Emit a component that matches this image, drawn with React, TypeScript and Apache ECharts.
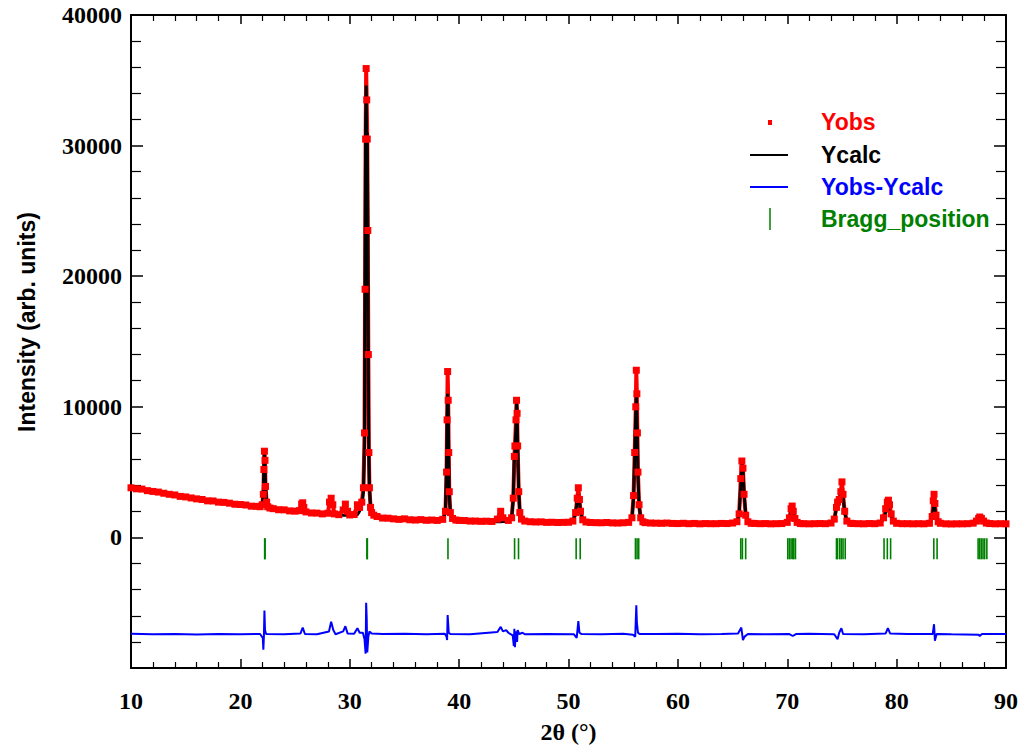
import React, { useEffect, useRef } from "react";
import * as echarts from "echarts";

// 2θ grid shared by observed and calculated profiles
const twoTheta = [
  10.0, 10.5, 11.0, 11.5, 12.0, 12.5, 13.0, 13.5, 14.0, 14.5, 15.0, 15.5, 16.0, 16.5, 17.0, 17.5, 18.0, 18.5, 19.0, 19.5,
  20.0, 20.5, 21.0, 21.5, 21.8, 22.0, 22.1, 22.15, 22.2, 22.25, 22.3, 22.4, 22.5, 22.7, 23.0, 23.5, 24.0, 24.5, 25.0, 25.4,
  25.6, 25.7, 25.8, 26.0, 26.5, 27.0, 27.5, 28.0, 28.15, 28.3, 28.45, 28.6, 29.0, 29.4, 29.6, 29.8, 30.0, 30.4, 30.7, 30.9,
  31.1, 31.25, 31.35, 31.4, 31.45, 31.5, 31.55, 31.6, 31.65, 31.7, 31.75, 31.8, 31.9, 32.0, 32.2, 32.5, 33.0, 33.5, 34.0, 34.5,
  35.0, 35.5, 36.0, 36.5, 37.0, 37.5, 38.0, 38.5, 38.75, 38.85, 38.9, 38.95, 39.0, 39.05, 39.1, 39.2, 39.4, 39.7, 40.0, 40.5,
  41.0, 41.5, 42.0, 42.5, 43.0, 43.5, 43.8, 44.0, 44.5, 44.8, 44.95, 45.05, 45.1, 45.2, 45.25, 45.3, 45.35, 45.45, 45.55, 45.7,
  46.0, 46.5, 47.0, 47.5, 48.0, 48.5, 49.0, 49.5, 50.0, 50.4, 50.65, 50.8, 50.9, 51.0, 51.1, 51.3, 51.6, 52.0, 52.5, 53.0,
  53.5, 54.0, 54.5, 55.0, 55.5, 55.8, 55.95, 56.05, 56.15, 56.2, 56.25, 56.3, 56.35, 56.45, 56.6, 56.8, 57.0, 57.5, 58.0, 58.5,
  59.0, 59.5, 60.0, 60.5, 61.0, 61.5, 62.0, 62.5, 63.0, 63.5, 64.0, 64.5, 65.0, 65.4, 65.6, 65.75, 65.85, 65.95, 66.05, 66.2,
  66.4, 66.7, 67.0, 67.5, 68.0, 68.5, 69.0, 69.5, 70.0, 70.2, 70.35, 70.45, 70.55, 70.7, 70.9, 71.2, 71.5, 72.0, 72.5, 73.0,
  73.5, 74.0, 74.3, 74.5, 74.6, 74.75, 74.9, 75.0, 75.1, 75.25, 75.45, 75.8, 76.0, 76.5, 77.0, 77.5, 78.0, 78.5, 78.8, 79.0,
  79.15, 79.25, 79.35, 79.5, 79.7, 80.0, 80.5, 81.0, 81.5, 82.0, 82.5, 83.0, 83.25, 83.35, 83.42, 83.5, 83.6, 83.8, 84.0, 84.5,
  85.0, 85.5, 86.0, 86.5, 87.0, 87.3, 87.5, 87.6, 87.75, 87.95, 88.2, 88.5, 89.0, 89.5, 90.0,
];

const yObs = [
  3800, 3720, 3700, 3580, 3520, 3470, 3380, 3300, 3250, 3140, 3100, 3020, 2950, 2900, 2800, 2790, 2700, 2680, 2620, 2540,
  2520, 2480, 2390, 2380, 2350, 2500, 3300, 5200, 6600, 5900, 3900, 2700, 2350, 2250, 2200, 2120, 2110, 2030, 2010, 2050,
  2550, 2650, 2300, 1950, 1870, 1860, 1800, 1850, 2700, 3000, 2500, 1800, 1740, 2100, 2550, 2000, 1720, 1750, 2500, 2300,
  2700, 3800, 8000, 19000, 30500, 35900, 33500, 30500, 23500, 14000, 6500, 3800, 2300, 1900, 1700, 1600, 1480, 1470, 1420, 1380,
  1420, 1350, 1330, 1360, 1310, 1330, 1300, 1380, 2000, 5000, 9000, 12700, 10500, 6500, 3500, 1900, 1450, 1330, 1300, 1290,
  1250, 1250, 1230, 1240, 1220, 1400, 2000, 1500, 1300, 1500, 3000, 6200, 7000, 9000, 10500, 9500, 7000, 3500, 1900, 1400,
  1250, 1200, 1180, 1190, 1150, 1160, 1140, 1150, 1160, 1250, 1900, 3000, 3800, 2900, 2000, 1350, 1180, 1140, 1130, 1120,
  1140, 1110, 1100, 1120, 1150, 1500, 3200, 6500, 10000, 12800, 11000, 8000, 5000, 2500, 1500, 1200, 1130, 1100, 1090, 1080,
  1100, 1070, 1060, 1080, 1050, 1070, 1040, 1060, 1050, 1050, 1070, 1060, 1100, 1200, 1800, 4500, 5850, 5300, 3300, 1700,
  1200, 1080, 1070, 1050, 1060, 1040, 1050, 1060, 1150, 1500, 2200, 2400, 2000, 1450, 1150, 1060, 1050, 1040, 1050, 1060,
  1050, 1100, 1400, 2300, 2700, 2900, 3500, 4250, 3300, 2000, 1250, 1080, 1060, 1050, 1040, 1060, 1050, 1100, 1500, 2200,
  2700, 2850, 2500, 1800, 1250, 1080, 1050, 1050, 1040, 1050, 1040, 1080, 1600, 2800, 3300, 2600, 1700, 1200, 1080, 1040,
  1030, 1040, 1040, 1050, 1090, 1250, 1450, 1560, 1450, 1250, 1100, 1060, 1040, 1050, 1040,
];

const yCalc = [
  3760, 3690, 3620, 3550, 3480, 3410, 3340, 3270, 3200, 3130, 3060, 3000, 2940, 2880, 2820, 2760, 2700, 2650, 2600, 2550,
  2500, 2450, 2400, 2350, 2320, 2450, 3500, 5500, 6650, 5600, 3900, 2700, 2350, 2220, 2180, 2130, 2080, 2040, 1990, 1960,
  1950, 1945, 1940, 1920, 1880, 1840, 1800, 1770, 1760, 1755, 1750, 1745, 1720, 1700, 1695, 1690, 1680, 1680, 1750, 2000,
  2500, 3500, 7000, 20500, 31500, 34600, 30000, 31000, 24000, 12000, 6000, 3800, 2400, 1900, 1650, 1550, 1480, 1440, 1410, 1390,
  1370, 1350, 1340, 1330, 1320, 1310, 1300, 1350, 1900, 5500, 9000, 11000, 10000, 6000, 3200, 1800, 1400, 1300, 1270, 1250,
  1240, 1230, 1220, 1210, 1200, 1200, 1200, 1210, 1230, 1450, 3000, 6300, 6500, 8500, 10500, 9600, 7200, 3500, 2000, 1450,
  1250, 1190, 1170, 1160, 1150, 1150, 1140, 1140, 1150, 1230, 1800, 2900, 3250, 2800, 1900, 1300, 1160, 1130, 1120, 1110,
  1110, 1100, 1100, 1100, 1130, 1450, 3000, 6200, 9500, 10800, 9200, 7500, 4800, 2500, 1450, 1180, 1120, 1100, 1080, 1075,
  1070, 1065, 1060, 1055, 1050, 1050, 1045, 1045, 1045, 1050, 1050, 1060, 1080, 1180, 1700, 4000, 5700, 5200, 3400, 1800,
  1250, 1100, 1060, 1050, 1045, 1045, 1050, 1060, 1130, 1450, 2000, 2170, 1900, 1400, 1150, 1070, 1050, 1040, 1040, 1045,
  1050, 1080, 1350, 2300, 2650, 2800, 3300, 3630, 3100, 1900, 1250, 1080, 1060, 1050, 1045, 1045, 1050, 1100, 1400, 1900,
  2150, 2170, 2000, 1600, 1200, 1080, 1050, 1040, 1040, 1035, 1040, 1080, 1500, 2200, 2480, 2200, 1600, 1150, 1060, 1040,
  1030, 1030, 1030, 1035, 1070, 1200, 1400, 1500, 1420, 1200, 1090, 1050, 1040, 1040, 1040,
];

// Difference curve (Yobs - Ycalc, shifted)
const diffTheta = [
  10, 12, 14, 16, 18, 20, 21.8, 22.05, 22.1, 22.15, 22.2, 22.25, 22.35, 24, 25.5, 25.7, 25.9, 27, 28.1, 28.3,
  28.5, 28.7, 29.4, 29.6, 29.8, 30.4, 30.7, 30.9, 31.2, 31.35, 31.45, 31.5, 31.55, 31.6, 31.7, 31.8, 32.0, 33, 35, 37,
  38.7, 38.85, 38.9, 38.95, 39.05, 39.2, 41, 43.5, 43.8, 44.0, 44.3, 44.5, 44.9, 45.0, 45.05, 45.1, 45.2, 45.3, 45.35, 45.5,
  45.8, 46, 48, 50.5, 50.75, 50.9, 51.0, 51.2, 53, 55, 55.9, 56.1, 56.2, 56.25, 56.35, 56.5, 58, 60, 62, 64,
  65.5, 65.8, 65.95, 66.1, 66.4, 68, 70.2, 70.5, 70.8, 72, 74.3, 74.6, 74.75, 74.95, 75.1, 77, 79.0, 79.2, 79.4, 81,
  83.3, 83.42, 83.5, 83.65, 85, 87.5, 87.6, 87.8, 90,
];
const diffValues = [
  -7380, -7420, -7400, -7430, -7390, -7410, -7400, -7700, -8600, -7600, -5600, -7100, -7400, -7420, -7350, -6900, -7400, -7420, -7200, -6450,
  -7100, -7420, -7200, -6800, -7350, -7380, -6950, -7300, -7300, -7800, -8900, -5000, -6200, -8800, -7600, -7200, -7350, -7400, -7380, -7420,
  -7380, -7600, -7860, -5950, -7300, -7400, -7420, -7250, -6850, -7200, -7100, -7300, -7500, -8300, -7000, -8400, -7200, -8000, -7100, -7400,
  -7300, -7420, -7400, -7420, -7700, -6400, -7300, -7400, -7420, -7380, -7450, -7600, -5200, -6500, -7300, -7400, -7400, -7380, -7420, -7400,
  -7350, -6900, -7860, -7600, -7400, -7420, -7400, -7550, -7400, -7380, -7420, -7800, -7300, -6950, -7400, -7420, -7350, -6950, -7350, -7400,
  -7400, -6650, -7910, -7400, -7420, -7450, -7550, -7400, -7400,
];

// Bragg reflection positions (2θ)
const braggPositions = [
  22.22, 22.26, 31.57, 31.61, 38.98, 45.07, 45.43, 50.7, 51.07, 56.12, 56.27, 56.42,
  65.75, 65.9, 66.2, 70.05, 70.2, 70.35, 70.5, 70.6, 70.75, 74.5, 74.6, 74.8, 74.95, 75.1, 75.3,
  78.85, 79.15, 79.45, 83.4, 83.7, 87.45, 87.6, 87.75, 87.9, 88.05, 88.25,
];
const braggTop = -60;
const braggBottom = -1680;

const xTicks = { min: 10, max: 90, interval: 10 };
const yTicks = { min: -10000, max: 40000, interval: 10000 };

const legendItems = ["Yobs", "Ycalc", "Yobs-Ycalc", "Bragg_position"];

const SERIF = '"Liberation Serif", "Times New Roman", serif';
const SANS = '"Liberation Sans", Arial, sans-serif';

export default function App() {
  const ref = useRef<HTMLDivElement>(null);

  useEffect(() => {
    document.body.style.margin = "0";
    if (!ref.current) return;
    const chart = echarts.init(ref.current, null, { renderer: "svg" });

    const obsData = twoTheta.map((t, i) => [t, yObs[i]]);
    const calcData = twoTheta.map((t, i) => [t, yCalc[i]]);
    const diffData = diffTheta.map((t, i) => [t, diffValues[i]]);

    const xBase = {
      type: "value" as const,
      min: xTicks.min,
      max: xTicks.max,
      interval: xTicks.interval,
      splitLine: { show: false },
      axisLine: { show: true, onZero: false, lineStyle: { color: "#000", width: 2 } },
      axisTick: { show: true, inside: true, length: 9, lineStyle: { color: "#000", width: 1.5 } },
      minorTick: { show: true, splitNumber: 5, length: 6, lineStyle: { color: "#000", width: 1.2 } },
    };
    const yBase = {
      type: "value" as const,
      min: yTicks.min,
      max: yTicks.max,
      interval: yTicks.interval,
      splitLine: { show: false },
      axisLine: { show: true, onZero: false, lineStyle: { color: "#000", width: 2 } },
      axisTick: { show: true, inside: true, length: 12, lineStyle: { color: "#000", width: 1.5 } },
      minorTick: { show: true, splitNumber: 5, length: 10, lineStyle: { color: "#000", width: 1.2 } },
    };

    const legendY = [122, 155, 187, 219];
    const legendColors = ["#ff0000", "#000000", "#0000ff", "#008000"];

    chart.setOption({
      animation: false,
      grid: { left: 131, right: 21, top: 15, bottom: 82, containLabel: false },
      xAxis: [
        {
          ...xBase,
          position: "bottom",
          name: "2θ (°)",
          nameLocation: "middle",
          nameGap: 52,
          nameTextStyle: { fontFamily: SERIF, fontWeight: "bold", fontSize: 24, color: "#000" },
          axisLabel: { show: true, margin: 21, fontFamily: SERIF, fontWeight: "bold", fontSize: 24, color: "#000" },
        },
        { ...xBase, position: "top", axisLabel: { show: false } },
      ],
      yAxis: [
        {
          ...yBase,
          position: "left",
          axisLabel: {
            show: true,
            margin: 9,
            fontFamily: SERIF,
            fontWeight: "bold",
            fontSize: 24,
            color: "#000",
            formatter: (v: number) => (v < 0 ? "" : String(v)),
          },
        },
        { ...yBase, position: "right", axisLabel: { show: false } },
      ],
      series: [
        {
          name: "Yobs",
          type: "line",
          data: obsData,
          symbol: "rect",
          symbolSize: 7,
          showSymbol: true,
          itemStyle: { color: "#ff0000" },
          lineStyle: { color: "#ff0000", width: 4 },
          silent: true,
        },
        {
          name: "Ycalc",
          type: "line",
          data: calcData,
          showSymbol: false,
          symbol: "none",
          lineStyle: { color: "#000000", width: 3 },
          silent: true,
        },
        {
          name: "Yobs-Ycalc",
          type: "line",
          data: diffData,
          showSymbol: false,
          symbol: "none",
          lineStyle: { color: "#0000ff", width: 2 },
          silent: true,
        },
        {
          name: "Bragg_position",
          type: "custom",
          data: braggPositions.map((p) => [p]),
          silent: true,
          renderItem: (params: any, api: any) => {
            const x = api.value(0);
            const p1 = api.coord([x, braggTop]);
            const p2 = api.coord([x, braggBottom]);
            return {
              type: "line",
              shape: { x1: p1[0], y1: p1[1], x2: p2[0], y2: p2[1] },
              style: { stroke: "#008000", lineWidth: 1.6 },
            };
          },
        },
      ],
      graphic: [
        {
          type: "text",
          x: 27,
          y: 322,
          rotation: Math.PI / 2,
          style: {
            text: "Intensity (arb. units)",
            font: `bold 23px ${SANS}`,
            fill: "#000",
            textAlign: "center",
            textVerticalAlign: "middle",
            verticalAlign: "middle",
          },
        },
        { type: "rect", shape: { x: 768, y: 120, width: 4, height: 5 }, style: { fill: "#ff0000" } },
        { type: "line", shape: { x1: 750, y1: 155, x2: 788, y2: 155 }, style: { stroke: "#000", lineWidth: 2 } },
        { type: "line", shape: { x1: 750, y1: 187, x2: 788, y2: 187 }, style: { stroke: "#0000ff", lineWidth: 2 } },
        { type: "line", shape: { x1: 770, y1: 208, x2: 770, y2: 230 }, style: { stroke: "#008000", lineWidth: 1.5 } },
        ...legendItems.map((label, i) => ({
          type: "text",
          x: 821,
          y: legendY[i],
          style: {
            text: label,
            font: `bold 23px ${SANS}`,
            fill: legendColors[i],
            textAlign: "left",
            textVerticalAlign: "middle",
            verticalAlign: "middle",
          },
        })),
      ],
    });

    return () => chart.dispose();
  }, []);

  return <div ref={ref} style={{ width: 1027, height: 750 }} />;
}
